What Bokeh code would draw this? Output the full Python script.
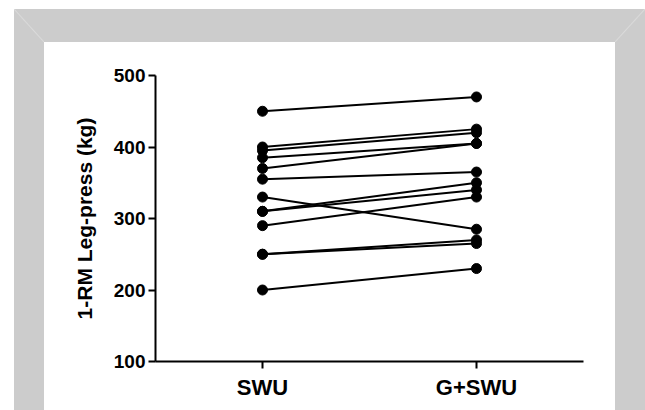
from bokeh.plotting import figure
from bokeh.models import Range1d, FixedTicker
from bokeh.embed import file_html
from bokeh.resources import INLINE

# ---- data ----
groups = ["SWU", "G+SWU"]
swu = [450, 400, 395, 385, 370, 355, 330, 310, 310, 290, 250, 250, 200]
g_swu = [470, 425, 420, 405, 405, 365, 285, 350, 340, 330, 270, 265, 230]
y_ticks = [100, 200, 300, 400, 500]
y_label = "1-RM Leg-press (kg)"

W, H = 645, 410
FONT = "Liberation Sans"

p = figure(width=W, height=H, output_backend="svg", toolbar_location=None,
           x_range=Range1d(0.5, 2.5), y_range=Range1d(100, 500),
           min_border_left=155, min_border_right=62,
           min_border_top=75, min_border_bottom=49)

p.background_fill_color = "white"
p.border_fill_color = None   # transparent: the picture frame is drawn by CSS below
p.outline_line_color = None
p.xgrid.visible = False
p.ygrid.visible = False

# gray bevelled picture frame behind the plot
GRAY = "#cccccc"
DIAG = "#dadada"
bg = ", ".join([
    f"linear-gradient(to top right, transparent calc(50% - 1px), {DIAG} 50%, transparent calc(50% + 1px)) 14px 9px / 30px 33px no-repeat",
    f"linear-gradient(to bottom right, transparent calc(50% - 1px), {DIAG} 50%, transparent calc(50% + 1px)) 615px 9px / 30px 33px no-repeat",
    "linear-gradient(#ffffff, #ffffff) 44px 42px / 571px 368px no-repeat",
    f"linear-gradient({GRAY}, {GRAY}) 14px 9px / 631px 401px no-repeat",
    "#ffffff",
])
p.styles = {"background": bg}

xpos = [i + 1 for i in range(len(groups))]
xs = [[xpos[0], xpos[1]] for _ in swu]
ys = [[a, b] for a, b in zip(swu, g_swu)]
p.multi_line(xs=xs, ys=ys, line_color="black", line_width=2)
p.scatter(x=[xpos[0]] * len(swu), y=swu, size=10, color="black")
p.scatter(x=[xpos[1]] * len(g_swu), y=g_swu, size=10, color="black")

for ax in (p.xaxis[0], p.yaxis[0]):
    ax.axis_line_width = 2
    ax.axis_line_color = "black"
    ax.major_tick_line_width = 2
    ax.major_tick_line_color = "black"
    ax.major_tick_out = 7
    ax.major_tick_in = 0
    ax.minor_tick_line_color = None
    ax.major_label_text_font = FONT
    ax.major_label_text_font_style = "bold"
    ax.major_label_text_color = "black"

p.xaxis.ticker = FixedTicker(ticks=xpos)
p.xaxis.major_label_overrides = {x: g for x, g in zip(xpos, groups)}
p.xaxis.major_label_text_font_size = "22px"
p.xaxis.major_label_standoff = 6

p.yaxis.ticker = FixedTicker(ticks=y_ticks)
p.yaxis.major_label_text_font_size = "19px"
p.yaxis.major_label_standoff = 3
p.yaxis.axis_label = y_label
p.yaxis.axis_label_text_font = FONT
p.yaxis.axis_label_text_font_style = "bold"
p.yaxis.axis_label_text_font_size = "21px"
p.yaxis.axis_label_text_color = "black"
p.yaxis.axis_label_standoff = 15

open("out.html", "w").write(file_html(p, INLINE))
